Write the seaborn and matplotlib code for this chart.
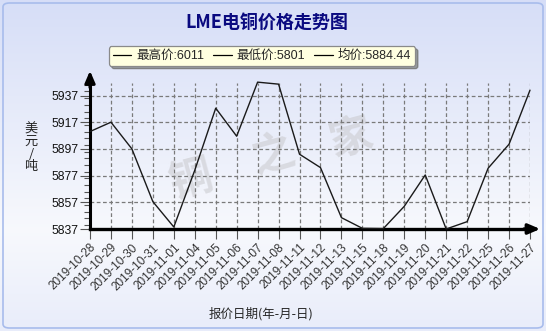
import numpy as np
import pandas as pd
import matplotlib
matplotlib.use("Agg")
import matplotlib.pyplot as plt
from matplotlib.lines import Line2D
from matplotlib.patches import FancyBboxPatch
from matplotlib.ticker import MultipleLocator, FixedLocator
import seaborn as sns

# ---- data ----
dates = ["2019-10-28", "2019-10-29", "2019-10-30", "2019-10-31", "2019-11-01",
         "2019-11-04", "2019-11-05", "2019-11-06", "2019-11-07", "2019-11-08",
         "2019-11-11", "2019-11-12", "2019-11-13", "2019-11-15", "2019-11-18",
         "2019-11-19", "2019-11-20", "2019-11-21", "2019-11-22", "2019-11-25",
         "2019-11-26", "2019-11-27"]
prices = [5910, 5917, 5897, 5857.5, 5838.5,
          5881, 5927.5, 5906.5, 5947, 5945.5,
          5893, 5883, 5845.5, 5837.5, 5837.3,
          5854, 5877.5, 5837, 5842.5, 5882.5,
          5900.5, 5941]
y_ticks = [5837, 5857, 5877, 5897, 5917, 5937]
title = "LME电铜价格走势图"
legend_labels = ["最高价:6011", "最低价:5801", "均价:5884.44"]
y_label = "美\n元\n/\n吨"
x_label = "报价日期(年-月-日)"
watermark = ["铜", "之", "家"]

df = pd.DataFrame({"pos": range(len(dates)), "date": dates, "price": prices})

sns.set_style("white")
plt.rcParams["font.family"] = ["Liberation Sans", "Noto Sans CJK SC", "DejaVu Sans"]

W, H = 546, 331
fig = plt.figure(figsize=(W / 100, H / 100), dpi=100)

# background gradient
bg = fig.add_axes([0, 0, 1, 1], zorder=-10)
grad = np.concatenate([np.linspace(0, 1, 230), np.linspace(1, 0.55, 101)])
top = np.array([0.84, 0.87, 0.97])
mid = np.array([0.97, 0.975, 0.99])
cols = top[None, :] * (1 - grad[:, None]) + mid[None, :] * grad[:, None]
bg.imshow(cols[:, None, :], aspect="auto", extent=[0, 1, 0, 1], origin="upper")
bg.set_xlim(0, 1); bg.set_ylim(0, 1)
bg.axis("off")
bg.add_patch(FancyBboxPatch((3 / W, 3 / H), 1 - 6 / W, 1 - 6 / H,
                            boxstyle="round,pad=0,rounding_size=0.012",
                            fill=False, edgecolor="#a8bcec", linewidth=1.2,
                            transform=bg.transAxes))

# watermark
for ch, (px, py) in zip(watermark, [(190, 180), (273, 155), (350, 138)]):
    fig.text(px / W, 1 - py / H, ch, fontsize=31, color="#c8c8cc", alpha=0.55,
             rotation=15, ha="center", va="center",
             family=["Noto Sans CJK SC"], fontweight="bold", zorder=-5)

ax = fig.add_axes([90 / W, 1 - 229 / H, 440 / W, 146 / H])
ax.patch.set_alpha(0)
sns.lineplot(data=df, x="pos", y="price", ax=ax, color="#1a1a1a",
             linewidth=1.0, clip_on=False, zorder=5)

ax.set_xlim(0, len(dates) - 1)
ax.set_ylim(5837, 5837 + 146 / 1.335)

ax.xaxis.set_major_locator(FixedLocator(list(df["pos"])))
ax.set_xticklabels(dates, rotation=45, ha="right", rotation_mode="anchor",
                   fontsize=8.5, color="#333333")
ax.set_yticks(y_ticks)
ax.set_yticklabels([str(v) for v in y_ticks], fontsize=8.7, color="#111111")
ax.yaxis.set_minor_locator(MultipleLocator(5))

ax.tick_params(axis="x", which="major", direction="out", length=7, width=0.8,
               color="#555555", pad=2, bottom=True)
ax.tick_params(axis="y", which="major", direction="out", length=7, width=0.8,
               color="#555555", pad=1, left=True)
ax.tick_params(axis="y", which="minor", direction="out", length=4, width=0.8,
               color="#555555", left=True)

ax.grid(True, which="major", axis="both", color="#7a7a7a", linestyle=(0, (3, 2)),
        linewidth=0.9)
ax.set_axisbelow(True)

for s in ["top", "right"]:
    ax.spines[s].set_visible(False)
ax.spines["left"].set_linewidth(2.2)
ax.spines["bottom"].set_linewidth(2.4)
ax.spines["left"].set_color("black")
ax.spines["bottom"].set_color("black")

# axis arrows
ax.annotate("", xy=(0, (229 - 68) / 146), xytext=(0, 0.95),
            xycoords="axes fraction", textcoords="axes fraction",
            arrowprops=dict(arrowstyle="-|>,head_length=0.7,head_width=0.3",
                            color="black", lw=2.2), annotation_clip=False)
ax.annotate("", xy=((543 - 90) / 440, 0), xytext=(0.98, 0),
            xycoords="axes fraction", textcoords="axes fraction",
            arrowprops=dict(arrowstyle="-|>,head_length=0.7,head_width=0.3",
                            color="black", lw=2.4), annotation_clip=False)

ax.set_xlabel("")
ax.set_ylabel("")

fig.text(267 / W, 1 - 22 / H, title, fontsize=13, fontweight="bold",
         color="#0a0a80", ha="center", va="center",
         family=["Noto Sans CJK SC"])
fig.text(31 / W, 1 - 148 / H, y_label, fontsize=9.5, ha="center", va="center",
         linespacing=0.95, family=["Noto Sans CJK SC"])
fig.text(261 / W, 1 - 314 / H, x_label, fontsize=9, ha="center", va="center",
         family=["Noto Sans CJK SC"])

handles = [Line2D([], [], color="black", lw=0.9) for _ in legend_labels]
leg = fig.legend(handles, legend_labels, loc="center",
                 bbox_to_anchor=(262 / W, 1 - 56 / H), ncol=3,
                 frameon=True, fancybox=True, shadow=True,
                 handlelength=1.5, handletextpad=0.4, columnspacing=0.7,
                 borderpad=0.3, borderaxespad=0,
                 prop={"family": ["Liberation Sans", "Noto Sans CJK SC"], "size": 9})
frame = leg.get_frame()
frame.set_facecolor("#ffffe0")
frame.set_edgecolor("#8a8a8a")
frame.set_linewidth(0.9)
frame.set_alpha(1)

fig.savefig("out.png", dpi=100)
